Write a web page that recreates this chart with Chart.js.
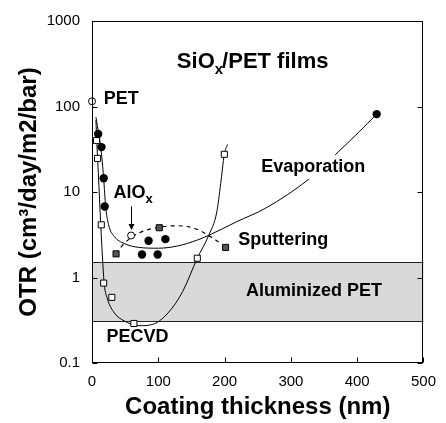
<!DOCTYPE html>
<html>
<head>
<meta charset="utf-8">
<script src="https://cdn.jsdelivr.net/npm/chart.js@4.4.1/dist/chart.umd.min.js"></script>
<style>
html, body { margin: 0; padding: 0; background: #fff; }
</style>
</head>
<body>
<canvas id="chart_canvas" width="446" height="423"></canvas>
<script>
// values (x in nm, y in cm3/day/m2/bar)
var petX = [0];
var petY = [115];

var evapX = [9.3, 14.3, 17.6, 19.1, 75.4, 85.3, 99, 110.7, 429.4];
var evapY = [47.7, 33.5, 14.5, 6.77, 1.86, 2.69, 1.86, 2.81, 81.5];

var alox = { x: 59, y: 3.1 };

var pecvdX = [6.9, 8.4, 14, 17.6, 29.9, 63.2, 158.8, 199.6];
var pecvdY = [40, 24.7, 4.13, 0.86, 0.586, 0.29, 1.68, 27.6];

var sputX = [36.3, 101.5, 201.5];
var sputY = [1.89, 3.82, 2.25];

// fitted curves as drawn in the figure
var evapCurveX = [5.9, 10.3, 14.7, 17.6, 20.6, 25, 33.8, 48.5, 70.6, 100, 129.4, 158.8, 176, 217.6, 261.8, 327.9, 367.6, 401.5, 429.4];
var evapCurveY = [75, 46.8, 26.2, 14.3, 6.82, 4.13, 3.01, 2.5, 2.25, 2.2, 2.34, 2.74, 3.11, 4.47, 6.47, 14.3, 27.6, 49.3, 81.5];

var pecvdCurveX = [5.9, 7.4, 9.6, 13.2, 16.2, 18.4, 23.5, 33.8, 48.5, 70.6, 92.6, 114.7, 136.8, 158.8, 176, 188.2, 194.1, 199.6, 204.4];
var pecvdCurveY = [69.5, 36, 16.3, 4.13, 1.52, 0.85, 0.556, 0.385, 0.311, 0.273, 0.285, 0.385, 0.687, 1.68, 3.11, 5.82, 12.5, 27.6, 36];

var sputCurveX = [36.3, 48.5, 72, 101.5, 129.4, 155.9, 176.5, 194];
var sputCurveY = [1.89, 2.5, 3.35, 3.87, 4.03, 3.72, 3.09, 2.5];

var bandTop = 1.5;
var bandBottom = 0.31;

var xTicks = [0, 100, 200, 300, 400, 500];
var yTicks = [0.1, 1, 10, 100, 1000];

var FONT = "'Liberation Sans', Arial, Helvetica, sans-serif";

// wanted plot box in the 446x423 canvas
var AREA = { left: 92, top: 14, right: 432, bottom: 363 };
var yAxisWidth = 92;
var xAxisHeight = 60;

function pts(xs, ys) {
	var out = [];
	for (var i = 0; i < xs.length; i++) out.push({ x: xs[i], y: ys[i] });
	return out;
}

var decorations = {
	id: 'decorations',
	beforeDatasetsDraw: function(chart) {
		var ctx = chart.ctx, a = chart.chartArea;
		var ys = chart.scales.y;
		var t = Math.round(ys.getPixelForValue(bandTop)) + 0.5;
		var b = Math.round(ys.getPixelForValue(bandBottom)) + 0.5;
		ctx.save();
		ctx.fillStyle = '#d9d9d9';
		ctx.fillRect(a.left, t, a.right - a.left, b - t);
		ctx.strokeStyle = '#222';
		ctx.lineWidth = 1;
		ctx.beginPath();
		ctx.moveTo(a.left, t); ctx.lineTo(a.right, t);
		ctx.moveTo(a.left, b); ctx.lineTo(a.right, b);
		ctx.stroke();
		ctx.restore();
	},
	afterDatasetsDraw: function(chart) {
		var ctx = chart.ctx, a = chart.chartArea;
		var xs = chart.scales.x, ys = chart.scales.y;
		function px(v) { return xs.getPixelForValue(v); }
		function py(v) { return ys.getPixelForValue(v); }

		ctx.save();
		// frame and inward ticks
		ctx.strokeStyle = '#000';
		ctx.lineWidth = 1;
		var L = Math.round(a.left) + 0.5, R = Math.round(a.right) - 0.5;
		var T = Math.round(a.top) + 0.5, B = Math.round(a.bottom) - 0.5;
		ctx.strokeRect(L, T, R - L, B - T);
		ctx.beginPath();
		yTicks.forEach(function(v) {
			var y = Math.round(py(v)) + 0.5;
			ctx.moveTo(L, y); ctx.lineTo(L + 5, y);
			ctx.moveTo(R, y); ctx.lineTo(R - 5, y);
		});
		xTicks.forEach(function(v) {
			var x = Math.round(px(v)) + 0.5;
			ctx.moveTo(x, B); ctx.lineTo(x, B - 5);
		});
		ctx.stroke();

		// AlOx arrow
		var ax = Math.round(px(alox.x)) + 0.5;
		var ay0 = py(6.8), ay1 = py(3.6);
		ctx.beginPath();
		ctx.moveTo(ax, ay0); ctx.lineTo(ax, ay1 - 3);
		ctx.stroke();
		ctx.fillStyle = '#000';
		ctx.beginPath();
		ctx.moveTo(ax - 3, ay1 - 6); ctx.lineTo(ax + 3, ay1 - 6); ctx.lineTo(ax, ay1); ctx.closePath();
		ctx.fill();

		// labels
		ctx.fillStyle = '#000';
		ctx.textBaseline = 'middle';

		function sub(main, s, x, y, size) {
			ctx.textAlign = 'left';
			ctx.font = 'bold ' + size + 'px ' + FONT;
			var w1 = ctx.measureText(main).width;
			ctx.fillText(main, x, y);
			ctx.font = 'bold ' + Math.round(size * 0.7) + 'px ' + FONT;
			var w2 = ctx.measureText(s).width;
			ctx.fillText(s, x + w1, y + size * 0.35);
			return x + w1 + w2;
		}

		// title SiOx/PET films
		var tx = sub('SiO', 'x', px(128), py(330), 22);
		ctx.font = 'bold 22px ' + FONT;
		ctx.fillText('/PET films', tx - 1, py(330));

		ctx.font = 'bold 18px ' + FONT;
		ctx.textAlign = 'left';
		ctx.fillText('PET', px(17.6), py(121));
		sub('AlO', 'x', px(32.4), py(9.6), 18);

		// Evaporation with white box hiding the curve
		ctx.font = 'bold 18px ' + FONT;
		var ew = ctx.measureText('Evaporation').width;
		var ex = px(333.8), ey = py(19.6);
		ctx.fillStyle = '#fff';
		ctx.fillRect(ex - ew / 2 - 3, ey - 12, ew + 6, 24);
		ctx.fillStyle = '#000';
		ctx.textAlign = 'center';
		ctx.fillText('Evaporation', ex, ey);

		ctx.textAlign = 'left';
		ctx.fillText('Sputtering', px(220.6), py(2.78));
		ctx.textAlign = 'center';
		ctx.fillText('Aluminized PET', px(335), py(0.687));
		ctx.textAlign = 'left';
		ctx.fillText('PECVD', px(22), py(0.2));
		ctx.restore();
	}
};

var ctx = document.getElementById('chart_canvas').getContext('2d');
var myChart = new Chart(ctx, {
	type: 'scatter',
	data: {
		datasets: [
			{ label: 'PET', data: pts(petX, petY), pointRadius: 3.5, pointBackgroundColor: '#fff', pointBorderColor: '#000', pointBorderWidth: 1 },
			{ label: 'AlOx', data: [alox], pointRadius: 3.5, pointBackgroundColor: '#fff', pointBorderColor: '#000', pointBorderWidth: 1 },
			{ label: 'Evaporation', data: pts(evapX, evapY), pointRadius: 4.2, pointBackgroundColor: '#000', pointBorderColor: '#000', pointBorderWidth: 0 },
			{ label: 'PECVD', data: pts(pecvdX, pecvdY), pointStyle: 'rect', pointRadius: 4.3, pointBackgroundColor: '#fff', pointBorderColor: '#000', pointBorderWidth: 1 },
			{ label: 'Sputtering', data: pts(sputX, sputY), pointStyle: 'rect', pointRadius: 4.3, pointBackgroundColor: '#555', pointBorderColor: '#000', pointBorderWidth: 1 },
			{ label: 'evap fit', data: pts(evapCurveX, evapCurveY), showLine: true, pointRadius: 0, borderColor: '#000', borderWidth: 1, cubicInterpolationMode: 'monotone' },
			{ label: 'pecvd fit', data: pts(pecvdCurveX, pecvdCurveY), showLine: true, pointRadius: 0, borderColor: '#000', borderWidth: 1, cubicInterpolationMode: 'monotone' },
			{ label: 'sput fit', data: pts(sputCurveX, sputCurveY), showLine: true, pointRadius: 0, borderColor: '#000', borderWidth: 1.2, borderDash: [4, 4], cubicInterpolationMode: 'monotone' }
		]
	},
	options: {
		responsive: false,
		animation: false,
		clip: false,
		layout: { padding: { top: 14, right: 14, left: 0, bottom: 0 } },
		plugins: { legend: { display: false }, tooltip: { enabled: false } },
		scales: {
			x: {
				type: 'linear', min: 0, max: 500,
				grid: { display: false, drawTicks: false },
				border: { display: false },
				afterBuildTicks: function(s) { s.ticks = xTicks.map(function(v) { return { value: v }; }); },
				afterFit: function(s) { s.height = xAxisHeight; },
				ticks: { color: '#000', padding: 10, maxRotation: 0, font: { family: FONT, size: 15 } },
				title: { display: true, text: 'Coating thickness (nm)', color: '#000', padding: { top: 0, bottom: 1 }, font: { family: FONT, size: 24, weight: 'bold' } }
			},
			y: {
				type: 'logarithmic', min: 0.1, max: 1000,
				grid: { display: false, drawTicks: false },
				border: { display: false },
				afterBuildTicks: function(s) { s.ticks = yTicks.map(function(v) { return { value: v }; }); },
				afterFit: function(s) { s.width = yAxisWidth; },
				ticks: { color: '#000', padding: 12, font: { family: FONT, size: 15 }, callback: function(v) { return String(v); } },
				title: { display: true, text: 'OTR (cm\u00B3/day/m2/bar)', color: '#000', padding: { top: 15, bottom: 0 }, font: { family: FONT, size: 24, weight: 'bold' } }
			}
		}
	},
	plugins: [decorations]
});

// nudge the layout so the plot box lands where the figure has it
for (var k = 0; k < 3; k++) {
	var a = myChart.chartArea;
	var p = myChart.options.layout.padding;
	yAxisWidth += AREA.left - a.left;
	p.top += AREA.top - a.top;
	p.right += a.right - AREA.right;
	xAxisHeight += a.bottom - AREA.bottom;
	myChart.update();
}
console.log(JSON.stringify(myChart.chartArea));
</script>
</body>
</html>
